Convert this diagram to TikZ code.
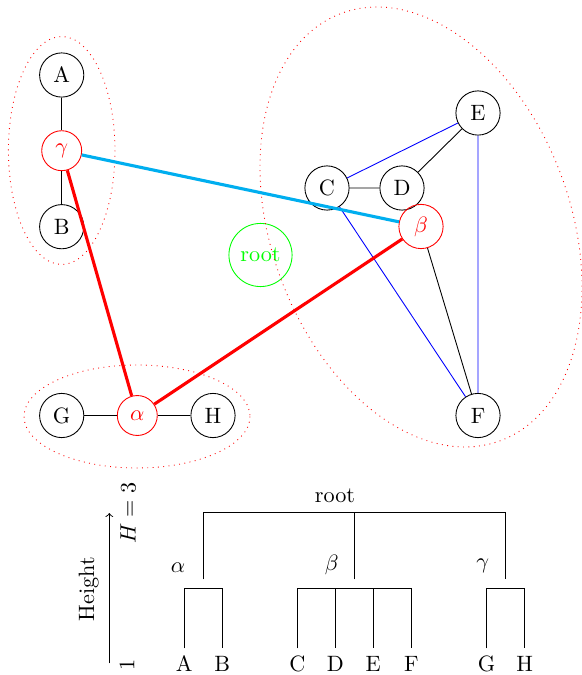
\documentclass[tikz,border=0pt]{standalone}
\definecolor{linkcyan}{RGB}{0,174,239}
\begin{document}
\begin{tikzpicture}[x=0.4505pt,y=-0.4505pt,
  vtx/.style={circle,draw,minimum size=0.7cm,inner sep=0pt},
  grp/.style={circle,draw=red,text=red,minimum size=18pt,inner sep=0pt},
  rootnode/.style={circle,draw=green,text=green,minimum size=1cm,inner sep=0pt},
  ring/.style={draw=red,dotted},
  link/.style={line width=1.4pt},
  axislabel/.style={rotate=90,inner sep=0pt}]
\useasboundingbox (0,0) rectangle (582,675);

% graph vertices
\node[vtx] (A) at (61.7,75) {A};
\node[grp] (gamma) at (61.7,150.7) {$\gamma$};
\node[vtx] (B) at (61.7,226.7) {B};
\node[vtx] (G) at (61.7,415.5) {G};
\node[grp] (alpha) at (137.3,415.5) {$\alpha$};
\node[vtx] (H) at (213,415.5) {H};
\node[vtx] (C) at (327,188) {C};
\node[vtx] (D) at (402,188) {D};
\node[vtx] (E) at (478,113) {E};
\node[grp,minimum size=0.7cm] (beta) at (421,226.5) {$\beta$};
\node[vtx] (F) at (478,415.5) {F};
\node[rootnode] (root) at (260.5,255) {root};

% cluster outlines
\draw[ring] (61.7,150.5) ellipse [x radius=53.3, y radius=114];
\draw[ring] (137,416.5) ellipse [x radius=113, y radius=51.5];
\draw[ring, rotate around={-69.6:(421,227)}] (421,227) ellipse [x radius=228, y radius=149.4];

% edges inside clusters
\draw (A) -- (gamma) -- (B);
\draw (G) -- (alpha) -- (H);
\draw (C) -- (D) -- (E);
\draw (beta) -- (F);
\draw[blue] (C) -- (E) -- (F);
\draw[blue] (C) -- (F);

% links between cluster representatives
\draw[link, linkcyan] (gamma) -- (beta);
\draw[link, red] (gamma) -- (alpha) -- (beta);

% dendrogram leaves
\foreach \n/\x in {A/184.3, B/222.3, C/297.3, D/335.3, E/373.3, F/411.3, G/486.7, H/524.7} {
  \node[anchor=base] (l\n) at (\x,671) {\n};
  \coordinate (t\n) at (\x,588.3);
  \coordinate (b\n) at (\x,648.3);
}
\draw (bA) -- (tA) -- (tB) -- (bB);
\draw (bC) -- (tC) -- (tF) -- (bF);
\draw (tD) -- (bD);
\draw (tE) -- (bE);
\draw (bG) -- (tG) -- (tH) -- (bH);

% dendrogram top level
\coordinate (pa) at (203.3,579.3);
\coordinate (qa) at (203.3,512.7);
\coordinate (pb) at (354.3,579.3);
\coordinate (qb) at (354.3,512.7);
\coordinate (pg) at (505.5,579.3);
\coordinate (qg) at (505.5,512.7);
\draw (pa) -- (qa) -- (qg) -- (pg);
\draw (pb) -- (qb);
\node (dalpha) at (178,568) {$\alpha$};
\node (dbeta) at (331.7,565) {$\beta$};
\node (dgamma) at (482.7,566) {$\gamma$};
\node (droot) at (335,495.3) {root};

% height axis
\coordinate (hlo) at (109.3,663.3);
\coordinate (hhi) at (109.3,513);
\draw[->] (hlo) -- (hhi);
\node[axislabel] (hname) at (88.8,589) {Height};
\node[axislabel] (hmax) at (128,513) {$H=3$};
\node[axislabel] (hmin) at (127,665) {1};
\end{tikzpicture}
\end{document}
